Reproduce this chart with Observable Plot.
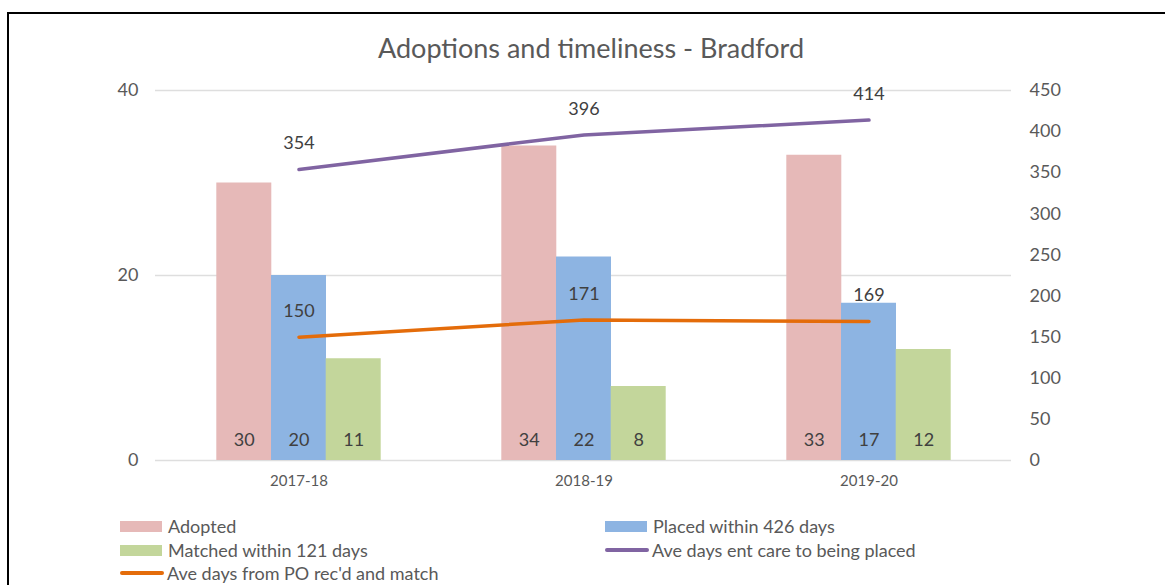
<!DOCTYPE html>
<html><head><meta charset="utf-8">
<script src="https://cdn.jsdelivr.net/npm/d3@7"></script>
<script src="https://cdn.jsdelivr.net/npm/@observablehq/plot@0.6"></script>
<style>
body{margin:0;background:#fff;font-family:Lato,"Open Sans",sans-serif;}
#wrap{position:relative;width:1165px;height:585px;overflow:hidden;background:#fff;}
#frame{position:absolute;left:7px;top:12px;width:1300px;height:800px;border-left:2px solid #000;border-top:2px solid #000;box-sizing:border-box;}
#title{position:absolute;left:0;width:1182px;top:33px;text-align:center;font-size:27px;line-height:30px;color:#595959;}
#chart{position:absolute;left:0;top:0;}
.lg{position:absolute;height:20px;display:flex;align-items:center;font-size:18px;color:#595959;white-space:nowrap;}
.sw{display:inline-block;}
</style></head>
<body>
<div id="wrap">
  <div id="frame"></div>
  <div id="chart"></div>
  <div id="title">Adoptions and timeliness - Bradford</div>
  <div id="legend"></div>
</div>
<script>
const categories = ["2017-18", "2018-19", "2019-20"];
const adopted = [30, 34, 33];
const placed = [20, 22, 17];
const matched = [11, 8, 12];
const aveEntCare = [354, 396, 414];
const avePO = [150, 171, 169];
const leftTicks = [0, 20, 40];
const rightTicks = [0, 50, 100, 150, 200, 250, 300, 350, 400, 450];
const seriesNames = ["Adopted", "Placed within 426 days", "Matched within 121 days", "Ave days ent care to being placed", "Ave days from PO rec'd and match"];
const seriesKinds = ["bar", "bar", "bar", "line", "line"];
const colors = ["#E6B9B8", "#8DB4E2", "#C3D69B", "#8064A2", "#E46C0A"];

const rows = categories.map((c, i) => ({cat: c, adopted: adopted[i], placed: placed[i], matched: matched[i], ent: aveEntCare[i], po: avePO[i]}));

const W = 1165, H = 500, mL = 155, mR = 154, mT = 90, mB = 40;
const pInner = 0.8083;
const bw = (W - mL - mR) / categories.length * (1 - pInner);
const k = 40 / 450; // right-axis value -> left-axis units

const barKeys = ["adopted", "placed", "matched"];
const offsets = [-bw, 0, bw];

const marks = [
  Plot.ruleY(leftTicks, {stroke: "#DEDEDE", strokeWidth: 1.5}),
  ...barKeys.map((key, j) => Plot.barY(rows, {x: "cat", y: key, fill: colors[j], dx: offsets[j]})),
  ...barKeys.map((key, j) => Plot.text(rows, {x: "cat", y: 0, text: d => String(d[key]), dx: offsets[j], dy: -20, lineAnchor: "middle", fontSize: 18, fill: "#404040"})),
  Plot.line(rows, {x: "cat", y: d => d.ent * k, stroke: colors[3], strokeWidth: 3.5, strokeLinecap: "round"}),
  Plot.line(rows, {x: "cat", y: d => d.po * k, stroke: colors[4], strokeWidth: 3.5, strokeLinecap: "round"}),
  Plot.text(rows, {x: "cat", y: d => d.ent * k, text: d => String(d.ent), dy: -26, lineAnchor: "middle", fontSize: 18, fill: "#404040"}),
  Plot.text(rows, {x: "cat", y: d => d.po * k, text: d => String(d.po), dy: -26, lineAnchor: "middle", fontSize: 18, fill: "#404040"}),
  Plot.axisY({anchor: "left", ticks: leftTicks, tickSize: 0, tickPadding: 17, fontSize: 18, label: null, fill: "#595959"}),
  Plot.axisY({anchor: "right", ticks: rightTicks.map(v => v * k), tickFormat: d => String(Math.round(d / k)), tickSize: 0, tickPadding: 18, fontSize: 18, label: null, fill: "#595959"}),
  Plot.axisX({ticks: categories, tickSize: 0, tickPadding: 15, fontSize: 15, label: null, fill: "#595959"})
];

const svg = Plot.plot({
  width: W, height: H,
  marginLeft: mL, marginRight: mR, marginTop: mT, marginBottom: mB,
  style: {fontFamily: "Lato, 'Open Sans', sans-serif", background: "transparent", color: "#595959"},
  x: {type: "band", domain: categories, paddingInner: pInner, paddingOuter: pInner / 2, axis: null},
  y: {domain: [0, 40], axis: null},
  marks
});
document.getElementById("chart").appendChild(svg);

// Legend
const legend = document.getElementById("legend");
const colX = [120, 605];
const rowY = [526, 550, 573];
seriesNames.forEach((name, i) => {
  const r = Math.floor(i / 2), c = i % 2;
  const item = document.createElement("div");
  item.className = "lg";
  item.style.left = colX[c] + "px";
  item.style.top = (rowY[r] - 10) + "px";
  const sw = document.createElement("span");
  sw.className = "sw";
  if (seriesKinds[i] === "bar") {
    sw.style.width = "42px"; sw.style.height = "11px"; sw.style.background = colors[i]; sw.style.marginRight = "6px";
  } else {
    sw.style.width = "44px"; sw.style.height = "3.5px"; sw.style.background = colors[i]; sw.style.borderRadius = "2px"; sw.style.marginRight = "3px";
  }
  item.appendChild(sw);
  const t = document.createElement("span");
  t.textContent = name;
  item.appendChild(t);
  legend.appendChild(item);
});
</script>
</body></html>
